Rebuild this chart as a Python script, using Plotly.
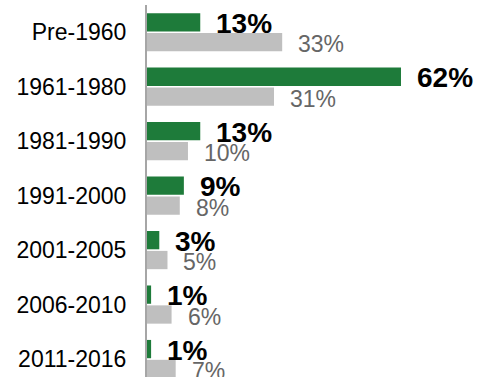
import plotly.graph_objects as go

periods = ["Pre-1960", "1961-1980", "1981-1990", "1991-2000",
           "2001-2005", "2006-2010", "2011-2016"]
share_green = [13, 62, 13, 9, 3, 1, 1]
share_gray = [33, 31, 10, 8, 5, 6, 7]

GREEN = "#1E7B3A"
GRAY = "#BFBFBF"
FONT = "Liberation Sans, Arial, sans-serif"

fig = go.Figure()
fig.add_trace(go.Bar(y=periods, x=share_green, orientation="h",
                     marker=dict(color=GREEN, line=dict(width=0)),
                     hoverinfo="skip"))
fig.add_trace(go.Bar(y=periods, x=share_gray, orientation="h",
                     marker=dict(color=GRAY, line=dict(width=0)),
                     hoverinfo="skip"))

annotations = []
for p, g, s in zip(periods, share_green, share_gray):
    annotations.append(dict(x=g, y=p, xref="x", yref="y", text=f"<b>{g}%</b>",
                            showarrow=False, xanchor="left", yanchor="middle",
                            xshift=14, yshift=9,
                            font=dict(family=FONT, size=28, color="#000000")))
    annotations.append(dict(x=s, y=p, xref="x", yref="y", text=f"{s}%",
                            showarrow=False, xanchor="left", yanchor="middle",
                            xshift=14, yshift=-12,
                            font=dict(family=FONT, size=23, color="#666666")))

fig.update_layout(
    width=478, height=377,
    margin=dict(l=147, r=0, t=5, b=0),
    paper_bgcolor="white", plot_bgcolor="white",
    barmode="group", bargap=0.27, bargroupgap=0.08,
    showlegend=False,
    annotations=annotations,
    font=dict(family=FONT, color="#000000"),
    xaxis=dict(range=[0, 80.8], visible=False, fixedrange=True),
    yaxis=dict(type="category", categoryorder="array", categoryarray=periods,
               range=[6.33, -0.5], showgrid=False, zeroline=False,
               showline=True, linecolor="#A6A6A6", linewidth=2,
               ticks="", ticklabelstandoff=14,
               tickfont=dict(family=FONT, size=23, color="#000000")),
)

fig.write_html("out.html")
